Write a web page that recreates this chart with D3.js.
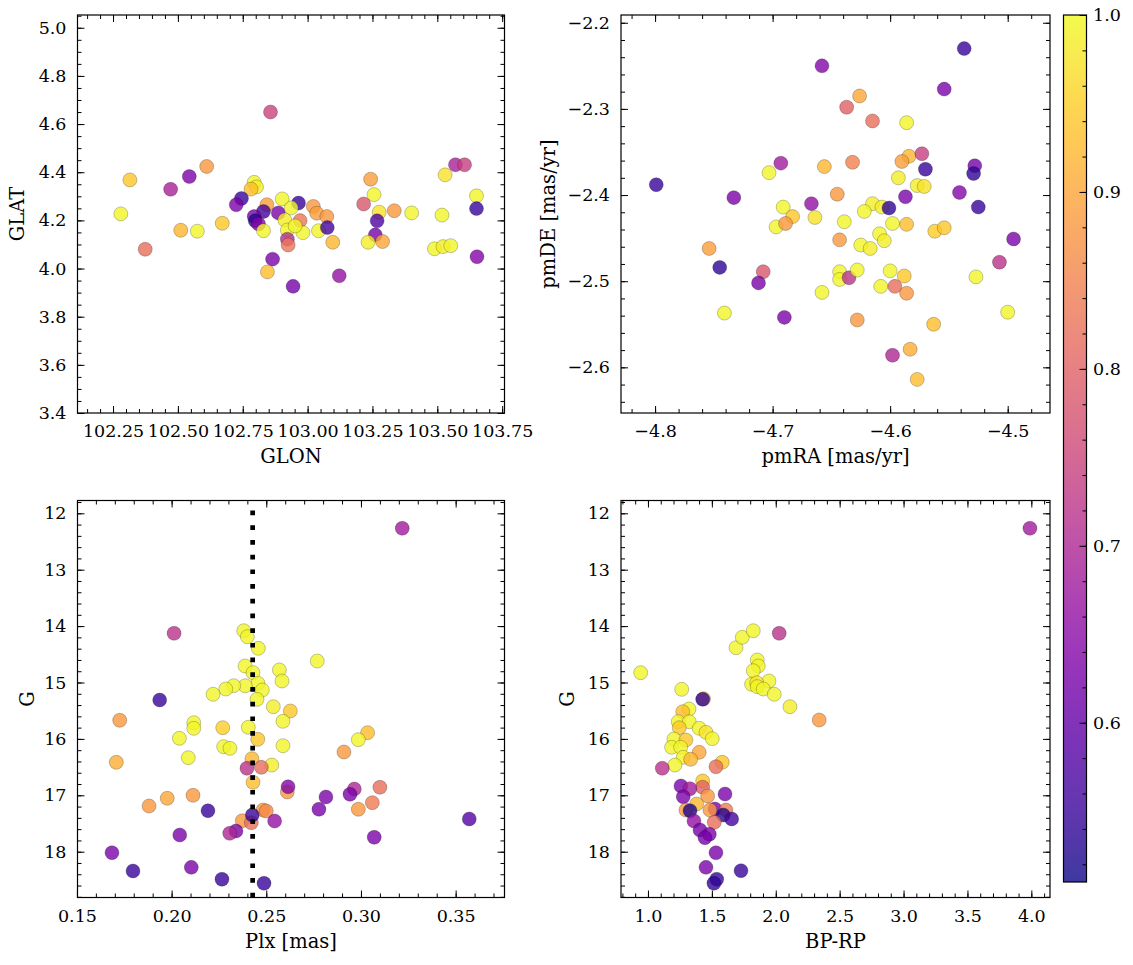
<!DOCTYPE html>
<html><head><meta charset="utf-8">
<script src="https://cdn.jsdelivr.net/npm/d3@7"></script>
<style>body{margin:0;background:#fff}</style>
</head><body>
<svg id="c" width="1133" height="965" xmlns="http://www.w3.org/2000/svg"></svg>
<script>
// ---------- DATA ----------
// Panel 1: GLON / GLAT
const glon = [102.857,102.611,102.544,102.315,102.472,102.280,102.374,102.511,102.575,102.671,102.794,102.803,102.782,102.745,102.725,102.843,102.830,102.794,102.798,102.811,102.830,102.887,102.902,102.912,102.922,102.922,102.925,102.865,102.845,102.944,102.965,103.022,103.035,103.074,102.971,102.982,103.042,103.076,103.097,103.122,103.243,103.256,103.216,103.276,103.334,103.401,103.268,103.261,103.233,103.289,103.530,103.570,103.605,103.651,103.651,103.518,103.489,103.522,103.552,103.653,102.937,102.952];
const glat = [4.650,4.424,4.382,4.368,4.329,4.227,4.080,4.159,4.155,4.188,4.358,4.339,4.330,4.291,4.265,4.265,4.237,4.216,4.198,4.185,4.157,4.231,4.289,4.202,4.160,4.122,4.098,4.039,3.986,3.926,4.272,4.258,4.230,4.216,4.199,4.149,4.157,4.170,4.109,3.970,4.371,4.307,4.268,4.234,4.240,4.231,4.198,4.140,4.109,4.112,4.389,4.431,4.431,4.302,4.249,4.222,4.082,4.091,4.095,4.049,4.252,4.177];
const prob1 = [0.75,0.88,0.63,0.94,0.69,0.995,0.82,0.92,0.995,0.94,0.995,0.985,0.93,0.55,0.63,0.89,0.56,0.62,0.53,0.64,0.995,0.63,0.995,0.985,0.995,0.71,0.83,0.63,0.93,0.62,0.55,0.88,0.89,0.88,0.83,0.995,0.995,0.56,0.92,0.66,0.89,0.995,0.78,0.975,0.88,0.995,0.57,0.62,0.985,0.90,0.975,0.69,0.74,0.995,0.55,0.995,0.995,0.985,0.995,0.64,0.995,0.995];

// Panel 2: pmRA / pmDE
const pmra = [-4.658,-4.799,-4.733,-4.693,-4.703,-4.656,-4.667,-4.691,-4.683,-4.664,-4.697,-4.689,-4.754,-4.745,-4.708,-4.712,-4.658,-4.741,-4.690,-4.537,-4.554,-4.626,-4.637,-4.615,-4.586,-4.632,-4.584,-4.590,-4.573,-4.570,-4.593,-4.577,-4.571,-4.528,-4.529,-4.541,-4.525,-4.587,-4.645,-4.615,-4.622,-4.607,-4.601,-4.639,-4.598,-4.586,-4.609,-4.605,-4.625,-4.617,-4.643,-4.562,-4.554,-4.495,-4.507,-4.527,-4.643,-4.643,-4.635,-4.628,-4.600,-4.588,-4.608,-4.596,-4.586,-4.628,-4.563,-4.500,-4.598,-4.583,-4.577];
const pmde = [-2.250,-2.388,-2.403,-2.363,-2.374,-2.367,-2.410,-2.414,-2.425,-2.426,-2.437,-2.433,-2.462,-2.484,-2.489,-2.502,-2.513,-2.537,-2.542,-2.230,-2.277,-2.285,-2.298,-2.314,-2.316,-2.362,-2.355,-2.361,-2.352,-2.370,-2.380,-2.389,-2.390,-2.366,-2.375,-2.397,-2.414,-2.402,-2.399,-2.410,-2.419,-2.414,-2.415,-2.431,-2.433,-2.434,-2.445,-2.453,-2.458,-2.462,-2.452,-2.442,-2.438,-2.451,-2.478,-2.495,-2.489,-2.498,-2.496,-2.487,-2.488,-2.494,-2.506,-2.506,-2.514,-2.545,-2.550,-2.536,-2.586,-2.579,-2.614];
const prob2 = [0.64,0.55,0.63,0.68,0.995,0.92,0.66,0.995,0.94,0.975,0.995,0.88,0.89,0.54,0.78,0.63,0.995,0.995,0.63,0.55,0.63,0.90,0.80,0.82,0.995,0.85,0.92,0.89,0.74,0.55,0.985,0.985,0.975,0.62,0.54,0.64,0.55,0.63,0.88,0.985,0.995,0.985,0.54,0.995,0.995,0.93,0.995,0.985,0.995,0.985,0.88,0.95,0.94,0.63,0.72,0.995,0.995,0.995,0.72,0.995,0.995,0.94,0.995,0.82,0.88,0.88,0.93,0.995,0.70,0.91,0.93];

// Panel 3: Plx / G
const plx = [0.2013,0.1937,0.1726,0.1708,0.2381,0.2400,0.2458,0.2388,0.2430,0.2456,0.2479,0.2389,0.2328,0.2286,0.2219,0.2451,0.2569,0.2583,0.2537,0.2627,0.2588,0.2117,0.2117,0.2041,0.2270,0.2405,0.2455,0.2588,0.2275,0.2308,0.2088,0.2424,0.2529,0.2398,0.2474,0.2430,0.2611,0.2615,0.1881,0.1977,0.2113,0.2192,0.2483,0.2500,0.2544,0.2373,0.2421,0.2426,0.2340,0.2307,0.2043,0.1685,0.1796,0.2104,0.2266,0.2488,0.3218,0.2769,0.3035,0.2986,0.2910,0.3100,0.2965,0.2942,0.2815,0.3060,0.2986,0.2778,0.3572,0.3070];
const gmag3 = [14.128,15.310,15.670,16.415,14.082,14.188,14.394,14.707,14.826,15.014,15.133,15.057,15.057,15.115,15.209,15.298,14.778,14.973,15.429,15.505,15.688,15.713,15.812,15.989,15.801,15.794,16.007,16.121,16.138,16.167,16.333,16.351,16.463,16.521,16.504,16.770,16.941,16.848,17.190,17.053,17.000,17.273,17.261,17.278,17.456,17.450,17.486,17.349,17.633,17.674,17.704,18.018,18.342,18.277,18.489,18.560,12.266,14.619,15.890,16.014,16.232,16.858,16.888,16.982,17.030,17.131,17.248,17.248,17.420,17.745];
const prob3 = [0.72,0.55,0.88,0.91,0.995,0.995,0.995,0.995,0.995,0.995,0.995,0.995,0.995,0.995,0.995,0.995,0.995,0.995,0.985,0.94,0.995,0.995,0.995,0.995,0.95,0.995,0.94,0.995,0.995,0.995,0.995,0.92,0.985,0.72,0.82,0.93,0.88,0.64,0.88,0.90,0.88,0.55,0.88,0.86,0.66,0.88,0.82,0.55,0.63,0.70,0.63,0.63,0.55,0.63,0.55,0.55,0.68,0.995,0.93,0.995,0.88,0.82,0.70,0.63,0.63,0.84,0.88,0.63,0.58,0.63];
const plxMean = 0.2428;

// Panel 4: BP-RP / G
const bprp = [0.943,1.264,1.435,1.428,1.321,1.272,1.237,1.323,1.245,1.401,1.454,1.503,1.203,1.297,1.185,1.256,1.401,1.276,1.334,1.211,1.112,1.581,1.532,1.428,1.428,1.258,1.329,1.276,1.467,1.603,1.381,1.297,1.329,1.524,1.485,1.610,1.589,1.655,1.360,1.519,1.407,1.480,1.446,1.532,1.454,1.728,1.538,1.516,1.689,1.738,1.824,2.027,1.855,1.863,1.824,1.947,1.811,1.851,1.855,1.902,1.988,2.111,2.340,3.989];
const gmag4 = [14.826,15.121,15.290,15.298,15.470,15.518,15.695,15.695,15.801,15.812,15.883,15.996,16.002,16.020,16.149,16.149,16.238,16.326,16.362,16.463,16.521,16.415,16.493,16.746,16.858,16.835,16.883,17.025,17.012,16.977,17.154,17.261,17.273,17.243,17.261,17.261,17.349,17.420,17.456,17.479,17.615,17.691,17.752,18.018,18.277,18.337,18.489,18.560,14.383,14.199,14.082,14.128,14.601,14.707,14.791,14.973,15.032,15.004,15.074,15.115,15.209,15.429,15.665,12.266];
const prob4 = [0.995,0.995,0.93,0.54,0.995,0.93,0.995,0.995,0.94,0.995,0.975,0.995,0.995,0.94,0.995,0.995,0.90,0.995,0.92,0.995,0.72,0.94,0.82,0.94,0.80,0.63,0.68,0.63,0.88,0.63,0.92,0.88,0.52,0.63,0.88,0.84,0.53,0.56,0.66,0.82,0.62,0.63,0.62,0.63,0.63,0.55,0.55,0.54,0.995,0.995,0.995,0.72,0.995,0.995,0.995,0.995,0.995,0.975,0.995,0.995,0.995,0.985,0.88,0.68];

// Tick labels
const glonTicks = [102.25,102.50,102.75,103.00,103.25,103.50,103.75];
const glatTicks = [3.4,3.6,3.8,4.0,4.2,4.4,4.6,4.8,5.0];
const pmraTicks = [-4.8,-4.7,-4.6,-4.5];
const pmdeTicks = [-2.6,-2.5,-2.4,-2.3,-2.2];
const plxTicks = [0.15,0.20,0.25,0.30,0.35];
const gTicks = [12,13,14,15,16,17,18];
const bprpTicks = [1.0,1.5,2.0,2.5,3.0,3.5,4.0];
const cbarTicks = [0.6,0.7,0.8,0.9,1.0];
const probMin = 0.51, probMax = 1.0;

// ---------- DRAW ----------
const FONT = "DejaVu Serif";
const TICK_FS = 17.5, LABEL_FS = 19.5;
const svg = d3.select("#c");
svg.append("rect").attr("width",1133).attr("height",965).attr("fill","#fff");
const color = d3.scaleSequential(d3.interpolatePlasma).domain([probMin, probMax]);

function minorRange(a, b, step) {
  const out = [];
  const n = Math.round((b - a) / step);
  for (let i = 0; i <= n; i++) out.push(+(a + i * step).toFixed(6));
  return out;
}

function styleAxis(g) {
  g.attr("font-family", FONT).attr("font-size", TICK_FS);
  g.select(".domain").remove();
  g.selectAll(".tick line").attr("stroke", "#000").attr("stroke-width", 1);
  g.selectAll(".tick text").attr("fill", "#000");
}

function panel(c) {
  const {x0, x1, y0, y1} = c.box;
  const xs = d3.scaleLinear().domain(c.xDom).range([x0, x1]);
  const ys = d3.scaleLinear().domain(c.yDom).range([y1, y0]);
  const g = svg.append("g");

  const idx = d3.range(c.xv.length);
  g.append("g").selectAll("circle").data(idx).join("circle")
    .attr("cx", i => xs(c.xv[i])).attr("cy", i => ys(c.yv[i]))
    .attr("r", 7)
    .attr("fill", i => color(c.pv[i])).attr("fill-opacity", 0.8)
    .attr("stroke", "#000").attr("stroke-opacity", 0.45).attr("stroke-width", 0.5);

  if (c.extra) c.extra(g, xs, ys);

  const sides = [
    [d3.axisBottom(xs), `translate(0,${y1})`, c.xMinor, c.xMajor, c.xFmt, 11.6],
    [d3.axisTop(xs), `translate(0,${y0})`, c.xMinor, c.xMajor, null, 0],
    [d3.axisLeft(ys), `translate(${x0},0)`, c.yMinor, c.yMajor, c.yFmt, 11],
    [d3.axisRight(ys), `translate(${x1},0)`, c.yMinor, c.yMajor, null, 0],
  ];
  sides.forEach(([ax, tr, minor, major, fmt, pad]) => {
    g.append("g").attr("transform", tr)
      .call(ax.tickValues(minor).tickSizeInner(-4).tickSizeOuter(0).tickFormat(""))
      .call(styleAxis);
    g.append("g").attr("transform", tr)
      .call(ax.tickValues(major).tickSizeInner(-7).tickSizeOuter(0).tickPadding(pad)
        .tickFormat(fmt ? d3.format(fmt) : ""))
      .call(styleAxis);
  });

  g.append("rect").attr("x", x0).attr("y", y0).attr("width", x1 - x0).attr("height", y1 - y0)
    .attr("fill", "none").attr("stroke", "#000").attr("stroke-width", 1.2);

  g.append("text").attr("x", (x0 + x1) / 2).attr("y", y1 + 50)
    .attr("text-anchor", "middle").attr("font-family", FONT).attr("font-size", LABEL_FS)
    .text(c.xLabel);
  g.append("text").attr("transform", `translate(${c.yLabelX},${(y0 + y1) / 2}) rotate(-90)`)
    .attr("text-anchor", "middle").attr("font-family", FONT).attr("font-size", LABEL_FS)
    .text(c.yLabel);
}

panel({
  box: {x0: 77.5, x1: 504.5, y0: 15, y1: 413},
  xv: glon, yv: glat, pv: prob1,
  xDom: [102.113, 103.759], yDom: [3.4, 5.053],
  xMajor: glonTicks, xMinor: minorRange(102.15, 103.75, 0.05), xFmt: ".2f",
  yMajor: glatTicks, yMinor: minorRange(3.4, 5.05, 0.05), yFmt: ".1f",
  xLabel: "GLON", yLabel: "GLAT", yLabelX: 24
});

panel({
  box: {x0: 621, x1: 1050, y0: 15, y1: 413},
  xv: pmra, yv: pmde, pv: prob2,
  xDom: [-4.829, -4.464], yDom: [-2.653, -2.191],
  xMajor: pmraTicks, xMinor: minorRange(-4.82, -4.48, 0.02), xFmt: ".1f",
  yMajor: pmdeTicks, yMinor: minorRange(-2.64, -2.2, 0.02), yFmt: ".1f",
  xLabel: "pmRA [mas/yr]", yLabel: "pmDE [mas/yr]", yLabelX: 555
});

panel({
  box: {x0: 77.5, x1: 504.5, y0: 500.5, y1: 897.5},
  xv: plx, yv: gmag3, pv: prob3,
  xDom: [0.1503, 0.3758], yDom: [18.812, 11.773],
  xMajor: plxTicks, xMinor: minorRange(0.16, 0.37, 0.01), xFmt: ".2f",
  yMajor: gTicks, yMinor: minorRange(11.8, 18.8, 0.2), yFmt: "d",
  xLabel: "Plx [mas]", yLabel: "G", yLabelX: 34,
  extra: (g, xs, ys) => {
    g.append("line").attr("x1", xs(plxMean)).attr("x2", xs(plxMean))
      .attr("y1", 897.5).attr("y2", 500.5)
      .attr("stroke", "#000").attr("stroke-width", 4.7).attr("stroke-dasharray", "4.7,10");
  }
});

panel({
  box: {x0: 621, x1: 1050, y0: 500.5, y1: 897.5},
  xv: bprp, yv: gmag4, pv: prob4,
  xDom: [0.789, 4.146], yDom: [18.812, 11.773],
  xMajor: bprpTicks, xMinor: minorRange(0.8, 4.1, 0.1), xFmt: ".1f",
  yMajor: gTicks, yMinor: minorRange(11.8, 18.8, 0.2), yFmt: "d",
  xLabel: "BP-RP", yLabel: "G", yLabelX: 574
});

// colorbar
(function () {
  const x0 = 1063.5, x1 = 1086.5, y0 = 15, y1 = 882;
  const cs = d3.scaleLinear().domain([probMin, probMax]).range([y1, y0]);
  const defs = svg.append("defs");
  const grad = defs.append("linearGradient").attr("id", "cbg")
    .attr("x1", 0).attr("y1", 1).attr("x2", 0).attr("y2", 0);
  d3.range(0, 1.0001, 0.05).forEach(t => {
    grad.append("stop").attr("offset", t).attr("stop-color", d3.interpolatePlasma(t));
  });
  svg.append("rect").attr("x", x0).attr("y", y0).attr("width", x1 - x0).attr("height", y1 - y0)
    .attr("fill", "url(#cbg)").attr("fill-opacity", 0.8);
  const ax = d3.axisRight(cs);
  svg.append("g").attr("transform", `translate(${x1},0)`)
    .call(ax.tickValues(minorRange(0.52, 1.0, 0.02)).tickSizeInner(-4).tickSizeOuter(0).tickFormat(""))
    .call(styleAxis);
  svg.append("g").attr("transform", `translate(${x1},0)`)
    .call(ax.tickValues(cbarTicks).tickSizeInner(-7).tickSizeOuter(0).tickPadding(6.5).tickFormat(d3.format(".1f")))
    .call(styleAxis);
  svg.append("rect").attr("x", x0).attr("y", y0).attr("width", x1 - x0).attr("height", y1 - y0)
    .attr("fill", "none").attr("stroke", "#000").attr("stroke-width", 1.2);
})();
</script>
</body></html>
